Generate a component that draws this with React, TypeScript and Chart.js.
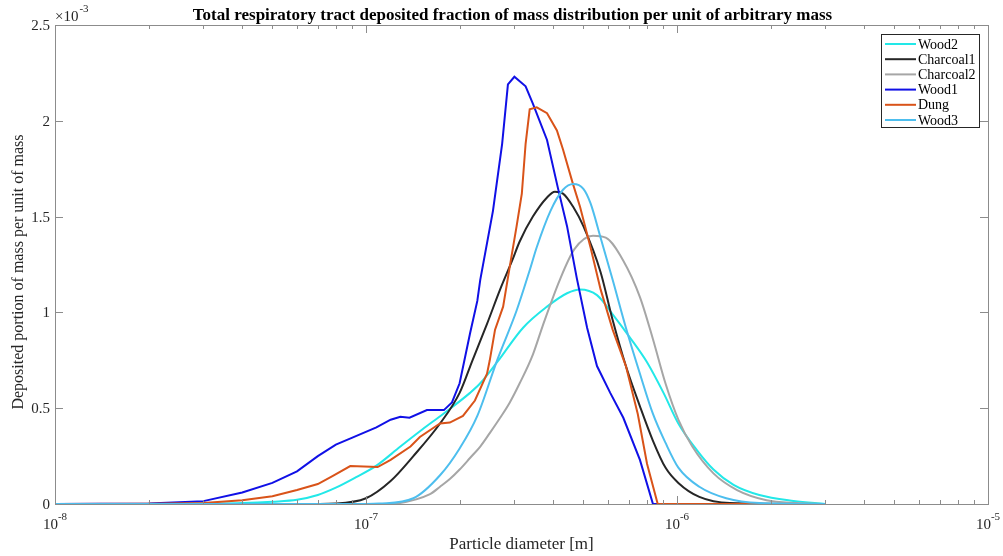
import React, { useEffect, useRef } from 'react';
import { Chart, registerables } from 'chart.js';

Chart.register(...registerables);

// ---- Data (diameter in m, deposited fraction in units of 1e-3) ----
const SERIES_NAMES = ['Wood2', 'Charcoal1', 'Charcoal2', 'Wood1', 'Dung', 'Wood3'];
const SERIES_COLORS = ['#22E8E8', '#262626', '#A6A6A6', '#1010E6', '#D95319', '#4DBEEE'];

const wood2X = [10e-9, 20e-9, 30e-9, 40e-9, 50e-9, 60e-9, 70e-9, 80e-9, 93e-9, 108e-9, 129e-9, 152e-9, 177e-9, 216e-9, 233e-9, 264e-9, 320e-9, 382e-9, 443e-9, 488e-9, 553e-9, 621e-9, 705e-9, 801e-9, 905e-9, 1010e-9, 1160e-9, 1310e-9, 1520e-9, 1840e-9, 2370e-9, 3000e-9];
const wood2Y = [0, 0, 0.002, 0.005, 0.012, 0.022, 0.047, 0.085, 0.14, 0.2, 0.3, 0.39, 0.47, 0.58, 0.63, 0.74, 0.92, 1.03, 1.1, 1.12, 1.09, 0.99, 0.87, 0.74, 0.58, 0.42, 0.28, 0.18, 0.1, 0.047, 0.016, 0];

const charcoal1X = [10e-9, 60e-9, 80e-9, 100e-9, 120e-9, 142e-9, 173e-9, 200e-9, 220e-9, 245e-9, 270e-9, 295e-9, 312e-9, 344e-9, 382e-9, 405e-9, 430e-9, 464e-9, 500e-9, 568e-9, 621e-9, 685e-9, 760e-9, 837e-9, 918e-9, 1010e-9, 1180e-9, 1480e-9, 3000e-9];
const charcoal1Y = [0, 0, 0.003, 0.03, 0.12, 0.25, 0.42, 0.58, 0.75, 0.94, 1.12, 1.27, 1.37, 1.5, 1.6, 1.63, 1.62, 1.55, 1.45, 1.21, 0.96, 0.72, 0.51, 0.33, 0.19, 0.11, 0.037, 0.005, 0];

const charcoal2X = [10e-9, 120e-9, 126e-9, 160e-9, 173e-9, 186e-9, 200e-9, 216e-9, 233e-9, 250e-9, 270e-9, 290e-9, 312e-9, 344e-9, 370e-9, 420e-9, 468e-9, 537e-9, 590e-9, 672e-9, 760e-9, 837e-9, 918e-9, 1010e-9, 1120e-9, 1310e-9, 1560e-9, 1940e-9, 2420e-9, 3000e-9];
const charcoal2Y = [0, 0, 0.002, 0.05, 0.09, 0.13, 0.18, 0.24, 0.3, 0.37, 0.45, 0.53, 0.63, 0.78, 0.93, 1.17, 1.33, 1.4, 1.39, 1.27, 1.08, 0.86, 0.63, 0.44, 0.3, 0.16, 0.073, 0.02, 0.005, 0];

const wood1X = [10e-9, 20e-9, 30e-9, 40e-9, 50e-9, 60e-9, 70e-9, 80e-9, 90e-9, 108e-9, 120e-9, 129e-9, 138e-9, 157e-9, 178e-9, 189e-9, 200e-9, 216e-9, 228e-9, 233e-9, 256e-9, 274e-9, 286e-9, 300e-9, 326e-9, 344e-9, 382e-9, 414e-9, 443e-9, 476e-9, 514e-9, 553e-9, 610e-9, 672e-9, 760e-9, 837e-9, 3000e-9];
const wood1Y = [0, 0.003, 0.015, 0.06, 0.11, 0.17, 0.25, 0.31, 0.345, 0.4, 0.44, 0.455, 0.45, 0.49, 0.49, 0.53, 0.63, 0.89, 1.06, 1.17, 1.53, 1.88, 2.19, 2.23, 2.18, 2.09, 1.9, 1.65, 1.45, 1.18, 0.92, 0.72, 0.58, 0.45, 0.23, 0, 0];

const dungX = [10e-9, 20e-9, 30e-9, 40e-9, 50e-9, 60e-9, 70e-9, 78e-9, 89e-9, 109e-9, 120e-9, 139e-9, 149e-9, 173e-9, 186e-9, 205e-9, 224e-9, 245e-9, 250e-9, 260e-9, 276e-9, 290e-9, 305e-9, 317e-9, 326e-9, 336e-9, 354e-9, 382e-9, 411e-9, 430e-9, 461e-9, 488e-9, 527e-9, 568e-9, 621e-9, 685e-9, 748e-9, 801e-9, 867e-9, 3000e-9];
const dungY = [0, 0.001, 0.005, 0.02, 0.04, 0.073, 0.104, 0.146, 0.198, 0.193, 0.23, 0.3, 0.35, 0.42, 0.425, 0.46, 0.54, 0.68, 0.75, 0.91, 1.03, 1.24, 1.45, 1.62, 1.88, 2.06, 2.07, 2.04, 1.95, 1.85, 1.68, 1.55, 1.34, 1.12, 0.91, 0.72, 0.47, 0.21, 0, 0];

const wood3X = [10e-9, 100e-9, 110e-9, 142e-9, 173e-9, 200e-9, 228e-9, 264e-9, 305e-9, 336e-9, 354e-9, 392e-9, 430e-9, 464e-9, 500e-9, 527e-9, 568e-9, 621e-9, 685e-9, 760e-9, 837e-9, 918e-9, 1010e-9, 1180e-9, 1440e-9, 1840e-9, 3000e-9];
const wood3Y = [0, 0, 0.002, 0.03, 0.15, 0.29, 0.46, 0.75, 1.01, 1.22, 1.34, 1.53, 1.64, 1.67, 1.645, 1.57, 1.39, 1.17, 0.92, 0.68, 0.47, 0.32, 0.19, 0.09, 0.03, 0.005, 0];

const SERIES_X = [wood2X, charcoal1X, charcoal2X, wood1X, dungX, wood3X];
const SERIES_Y = [wood2Y, charcoal1Y, charcoal2Y, wood1Y, dungY, wood3Y];
const SERIES_SMOOTH = [true, true, true, false, false, true];

const Y_TICKS = [0, 0.5, 1, 1.5, 2, 2.5];
const Y_TICK_LABELS = ['0', '0.5', '1', '1.5', '2', '2.5'];
const X_DECADES = [-8, -7, -6, -5];

const TITLE = 'Total respiratory tract deposited fraction of mass distribution per unit of arbitrary mass';
const X_TITLE = 'Particle diameter [m]';
const Y_TITLE = 'Deposited portion of mass per unit of mass';
const Y_EXPONENT = '-3';

const FONT = '"Liberation Serif", "Times New Roman", serif';

const framePlugin = {
  id: 'matlabFrame',
  afterDraw(chart: any) {
    const { ctx, chartArea: a, scales } = chart;
    const x = scales.x;
    const y = scales.y;
    ctx.save();

    // axes box
    ctx.strokeStyle = '#8C8C8C';
    ctx.lineWidth = 1;
    ctx.strokeRect(Math.round(a.left) + 0.5, Math.round(a.top) + 0.5, Math.round(a.right - a.left), Math.round(a.bottom - a.top));

    // x ticks (major + minor, inward, top and bottom)
    ctx.beginPath();
    for (let i = 0; i < X_DECADES.length; i++) {
      const e = X_DECADES[i];
      for (let m = 1; m <= 9; m++) {
        if (i === X_DECADES.length - 1 && m > 1) break;
        const v = m * Math.pow(10, e);
        const px = Math.round(x.getPixelForValue(v)) + 0.5;
        const len = m === 1 ? 8 : 4;
        ctx.moveTo(px, a.bottom);
        ctx.lineTo(px, a.bottom - len);
        ctx.moveTo(px, a.top);
        ctx.lineTo(px, a.top + len);
      }
    }
    // y ticks
    Y_TICKS.forEach((v) => {
      const py = Math.round(y.getPixelForValue(v)) + 0.5;
      ctx.moveTo(a.left, py);
      ctx.lineTo(a.left + 8, py);
      ctx.moveTo(a.right, py);
      ctx.lineTo(a.right - 8, py);
    });
    ctx.stroke();

    // y tick labels
    ctx.fillStyle = '#262626';
    ctx.font = `15px ${FONT}`;
    ctx.textAlign = 'right';
    ctx.textBaseline = 'middle';
    Y_TICKS.forEach((v, i) => {
      ctx.fillText(Y_TICK_LABELS[i], a.left - 5, y.getPixelForValue(v) + 1);
    });

    // exponent label
    ctx.textAlign = 'left';
    ctx.textBaseline = 'alphabetic';
    ctx.font = `15px ${FONT}`;
    ctx.fillText('\u00D710', a.left, a.top - 4);
    const w10 = ctx.measureText('\u00D710').width;
    ctx.font = `11px ${FONT}`;
    ctx.fillText(Y_EXPONENT, a.left + w10 + 1, a.top - 13);

    // x tick labels 10^e
    X_DECADES.forEach((e) => {
      const px = x.getPixelForValue(Math.pow(10, e));
      ctx.font = `15px ${FONT}`;
      const wb = ctx.measureText('10').width;
      ctx.font = `11px ${FONT}`;
      const we = ctx.measureText(String(e)).width;
      const start = px - (wb + we) / 2;
      ctx.textAlign = 'left';
      ctx.font = `15px ${FONT}`;
      ctx.fillText('10', start, a.bottom + 25);
      ctx.font = `11px ${FONT}`;
      ctx.fillText(String(e), start + wb, a.bottom + 16);
    });

    // axis titles
    ctx.font = `17px ${FONT}`;
    ctx.textAlign = 'center';
    ctx.fillText(X_TITLE, (a.left + a.right) / 2, a.bottom + 45);
    ctx.save();
    ctx.font = `16px ${FONT}`;
    ctx.translate(23, 272);
    ctx.rotate(-Math.PI / 2);
    ctx.textBaseline = 'alphabetic';
    ctx.fillText(Y_TITLE, 0, 0);
    ctx.restore();

    // title
    ctx.fillStyle = '#000000';
    ctx.font = `bold 17px ${FONT}`;
    ctx.textAlign = 'center';
    ctx.textBaseline = 'alphabetic';
    ctx.fillText(TITLE, (a.left + a.right) / 2 - 9, a.top - 5);

    // legend
    const lx = 881, ly = 34, lw = 98, lh = 93;
    ctx.fillStyle = '#FFFFFF';
    ctx.fillRect(lx, ly, lw, lh);
    ctx.strokeStyle = '#262626';
    ctx.lineWidth = 1;
    ctx.strokeRect(lx + 0.5, ly + 0.5, lw, lh);
    ctx.font = `14px ${FONT}`;
    ctx.textAlign = 'left';
    ctx.textBaseline = 'middle';
    SERIES_NAMES.forEach((name, i) => {
      const yy = ly + 10 + i * 15.2;
      ctx.strokeStyle = SERIES_COLORS[i];
      ctx.lineWidth = 2;
      ctx.beginPath();
      ctx.moveTo(lx + 4, yy);
      ctx.lineTo(lx + 35, yy);
      ctx.stroke();
      ctx.fillStyle = '#000000';
      ctx.fillText(name, lx + 37, yy + 1);
    });

    ctx.restore();
  },
};

export default function App() {
  const ref = useRef<HTMLCanvasElement | null>(null);

  useEffect(() => {
    if (!ref.current) return;
    const datasets = SERIES_NAMES.map((name, i) => ({
      label: name,
      data: SERIES_X[i].map((xv, j) => ({ x: xv, y: SERIES_Y[i][j] })),
      borderColor: SERIES_COLORS[i],
      backgroundColor: SERIES_COLORS[i],
      borderWidth: 2,
      pointRadius: 0,
      fill: false,
      tension: SERIES_SMOOTH[i] ? 0.4 : 0,
      cubicInterpolationMode: SERIES_SMOOTH[i] ? 'monotone' : 'default',
      clip: 4,
      order: SERIES_NAMES.length - i,
    }));
    const chart = new Chart(ref.current, {
      type: 'line',
      data: { datasets } as any,
      options: {
        animation: false,
        responsive: false,
        devicePixelRatio: 1,
        parsing: false,
        layout: { padding: { left: 55, top: 25, right: 15, bottom: 52 } },
        plugins: { legend: { display: false }, tooltip: { enabled: false }, title: { display: false } },
        scales: {
          x: { type: 'logarithmic', min: 1e-8, max: 1e-5, display: false },
          y: { type: 'linear', min: 0, max: 2.5, display: false },
        },
      } as any,
      plugins: [framePlugin],
    });
    return () => chart.destroy();
  }, []);

  return (
    <div style={{ position: 'absolute', left: 0, top: 0, width: 1003, height: 556, background: '#fff' }}>
      <canvas ref={ref} width={1003} height={556} style={{ display: 'block', width: 1003, height: 556 }} />
    </div>
  );
}
